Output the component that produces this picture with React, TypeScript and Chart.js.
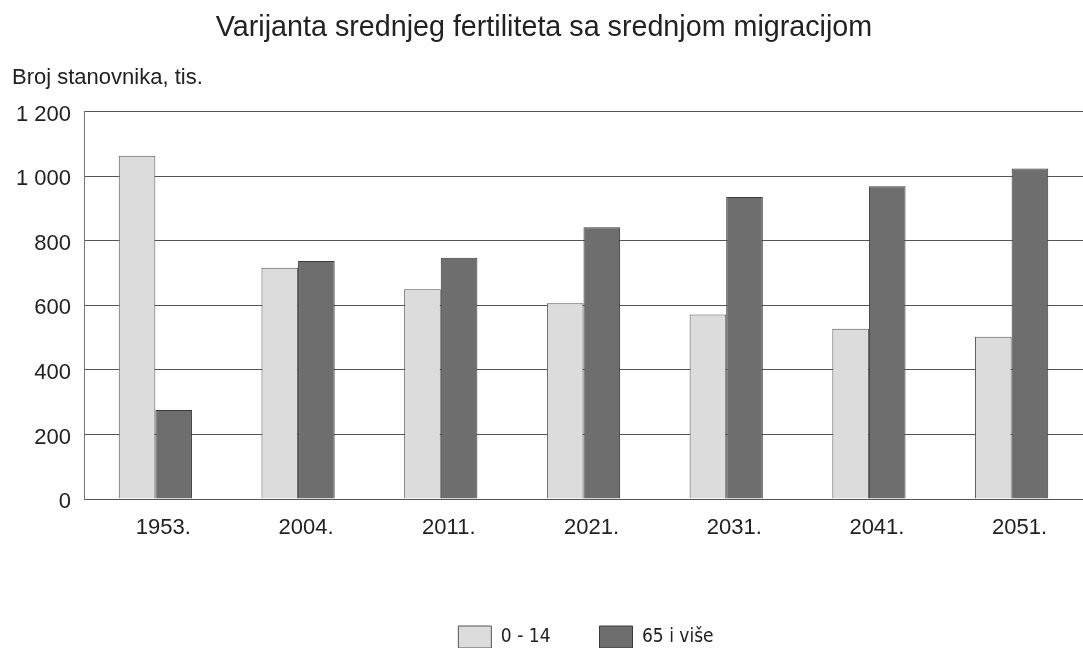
import React, { useEffect, useRef } from "react";
import { Chart, registerables } from "chart.js";

Chart.register(...registerables);

const TITLE = "Varijanta srednjeg fertiliteta sa srednjom migracijom";
const Y_LABEL = "Broj stanovnika, tis.";
const categories = ["1953.", "2004.", "2011.", "2021.", "2031.", "2041.", "2051."];
const seriesNames = ["0 - 14", "65 i više"];
const young = [1064, 717, 650, 607, 572, 528, 503];
const old = [276, 738, 748, 842, 936, 969, 1024];
const yTicksMax = 1200;
const yTicksStep = 200;

const fmt = (v: number) => {
  if (v >= 1000) {
    const th = Math.floor(v / 1000);
    const rest = String(v % 1000).padStart(3, "0");
    return `${th} ${rest}`;
  }
  return String(v);
};

const shiftPlugin = {
  id: "shiftBoxes",
  afterLayout(chart: any) {
    const ca = chart.chartArea;
    if (chart.titleBlock) {
      chart.titleBlock.left = 0;
      chart.titleBlock.right = 1088;
    }
    if (chart.legend) {
      chart.legend.left = ca.left + 5;
      chart.legend.right = ca.right;
    }
  },
};

export default function App() {
  const ref = useRef<HTMLCanvasElement>(null);
  useEffect(() => {
    document.body.style.margin = "0";
    document.body.style.overflow = "hidden";
    const font = "'Liberation Sans', Arial, sans-serif";
    const chart = new Chart(ref.current!, {
      type: "bar",
      data: {
        labels: categories,
        datasets: [
          {
            label: seriesNames[0],
            data: young,
            backgroundColor: "#dcdcdc",
            borderColor: "#555555",
            borderWidth: 1,
          },
          {
            label: seriesNames[1],
            data: old,
            backgroundColor: "#6e6e6e",
            borderColor: "#3a3a3a",
            borderWidth: 1,
          },
        ],
      },
      plugins: [shiftPlugin],
      options: {
        animation: false,
        responsive: true,
        maintainAspectRatio: false,
        layout: { padding: { left: 12, right: -11, top: 0, bottom: -10 } },
        datasets: {
          bar: { categoryPercentage: 0.513, barPercentage: 1 },
        },
        plugins: {
          title: {
            display: true,
            text: TITLE,
            color: "#222",
            font: { family: font, size: 28.7, weight: "normal" },
            padding: { top: 11, bottom: 0 },
          },
          subtitle: {
            display: true,
            text: Y_LABEL,
            align: "start",
            color: "#222",
            font: { family: font, size: 22, weight: "normal" },
            padding: { top: 19, bottom: 21 },
          },
          legend: {
            position: "bottom",
            labels: {
              boxWidth: 33,
              boxHeight: 22,
              padding: 49,
              color: "#222",
              font: {
                family: "'Liberation Sans Narrow', 'Arial Narrow', 'DejaVu Sans Condensed', sans-serif",
                size: 19,
              },
            },
          },
          tooltip: { enabled: false },
        },
        scales: {
          x: {
            grid: { display: false, drawTicks: false },
            border: { display: true, color: "#555", width: 1 },
            ticks: {
              color: "#222",
              padding: 16,
              labelOffset: 8,
              font: { family: font, size: 22 },
            },
            afterFit: (s: any) => {
              s.height = 78;
            },
          },
          y: {
            min: 0,
            max: yTicksMax,
            grid: { color: "#555", drawTicks: false, lineWidth: 1 },
            border: { display: true, color: "#777", width: 1 },
            ticks: {
              stepSize: yTicksStep,
              color: "#222",
              padding: 13,
              labelOffset: 3,
              font: { family: font, size: 22 },
              callback: (v: any) => fmt(Number(v)),
            },
            afterFit: (s: any) => {
              s.width = 72;
            },
          },
        },
      },
    });
    return () => chart.destroy();
  }, []);
  return (
    <div style={{ width: 1083, height: 648, position: "relative" }}>
      <canvas ref={ref} />
    </div>
  );
}
